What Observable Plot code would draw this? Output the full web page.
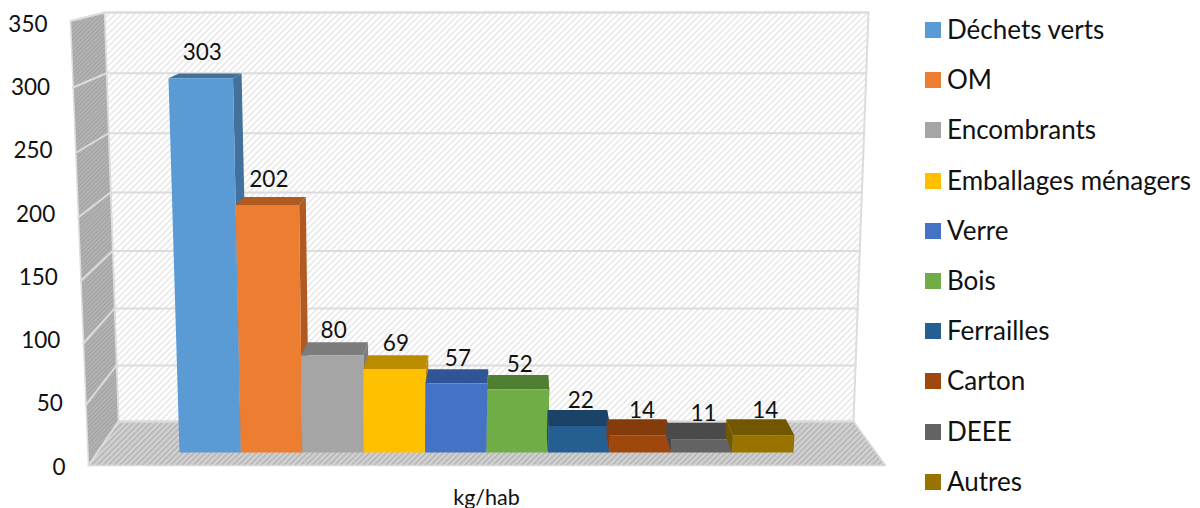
<!DOCTYPE html>
<html>
<head>
<meta charset="utf-8">
<script src="https://cdn.jsdelivr.net/npm/d3@7"></script>
<script src="https://cdn.jsdelivr.net/npm/@observablehq/plot@0.6"></script>
<style>
html,body{margin:0;padding:0;background:#fff;overflow:hidden}
#wrap{position:relative;width:1200px;height:508px;font-family:Lato,sans-serif}
#wrap svg{display:block;position:absolute;left:0;top:0}
#legend{position:absolute;left:925px;top:4px;width:275px}
.row{position:absolute;left:0;display:flex;align-items:center;height:50px;font-size:26px;color:#111;white-space:nowrap}
.sw{width:16px;height:16px;margin-right:6px;flex:none;position:relative;top:1px}
</style>
</head>
<body>
<div id="wrap"><div id="legend"></div></div>
<script>
const categories = ["Déchets verts","OM","Encombrants","Emballages ménagers","Verre","Bois","Ferrailles","Carton","DEEE","Autres"];
const values = [303,202,80,69,57,52,22,14,11,14];
const colors = ["#5b9bd5","#ed7d31","#a5a5a5","#ffc000","#4472c4","#70ad47","#255e91","#9e480e","#636363","#997300"];
const topColors = ["#41719c","#ae5a21","#7c7c7c","#bc8c00","#2f5597","#507e32","#1a4367","#843c0c","#4a4a4a","#725600"];
const tickValues = [0,50,100,150,200,250,300,350];
const axisTitle = "kg/hab";

// Oblique 3D view: depth positions are resolved into the plane of the chart's x and y scales
const W = 1200, H = 508, X0 = 179, BW = 61.4, Y0 = 465, PX = 1.265;
const toU = px => (px - X0) / BW;
const toV = py => (Y0 - py) / PX;
const pt = (px, py) => ({x: toU(px), y: toV(py)});

const frontLeft = v => pt(88 - 18 * v / 350, 465 - 1.2 * v - 0.0002 * v * v);
const backY = v => 421 - 1.1137 * v - 0.000157 * v * v;
const backLeft = v => pt(118 - 14 * v / 350, backY(v));
const backRight = v => pt(853 + 15 * v / 350, backY(v));

const barFront = (u, v) => pt(X0 + BW * u + (u - 3.5) * 0.0104 * v, 452 - 1.205 * v - 0.0001 * v * v);
const barBack = (u, v) => pt(X0 + BW * u + (u - 3.5) * 0.0104 * v + (5.5 - u) * 1.9, 435 - 1.155 * v - 0.00013 * v * v);

const maxTick = tickValues[tickValues.length - 1];
const wallBack = [backLeft(0), backRight(0), backRight(maxTick), backLeft(maxTick), backLeft(0)];
const wallLeft = [frontLeft(0), backLeft(0), backLeft(maxTick), frontLeft(maxTick), frontLeft(0)];
const floorPts = [frontLeft(0), pt(885, 465), backRight(0), backLeft(0), frontLeft(0)];
const grid = tickValues.flatMap(v => [frontLeft(v), backLeft(v), backRight(v)].map(p => ({...p, v})));

const poly = (pts, o) => Plot.line(pts, {x: "x", y: "y", ...o});

function defs() {
  const d = d3.create("svg:defs");
  const pat = (id, bg, fg, size, sw) => {
    const p = d.append("svg:pattern").attr("id", id).attr("width", size).attr("height", size)
      .attr("patternUnits", "userSpaceOnUse").attr("patternTransform", "rotate(45)");
    p.append("svg:rect").attr("width", size).attr("height", size).attr("fill", bg);
    p.append("svg:rect").attr("width", sw).attr("height", size).attr("fill", fg);
  };
  pat("hWall", "#ffffff", "#e6e6e6", 4.5, 1.5);
  pat("hLeft", "#b4b4b4", "#a2a2a2", 3, 1.2);
  pat("hFloor", "#d2d2d2", "#b4b4b4", 4, 1.6);
  return d.node();
}

const barMarks = values.flatMap((v, i) => {
  const sideU = i < 6 ? i + 1 : i;
  const side = [barFront(sideU, 0), barBack(sideU, 0), barBack(sideU, v), barFront(sideU, v)];
  const lid = [barFront(i, v), barFront(i + 1, v), barBack(i + 1, v), barBack(i, v)];
  const face = [barFront(i, 0), barFront(i + 1, 0), barFront(i + 1, v), barFront(i, v)].map(p => ({...p, cat: categories[i]}));
  return [
    poly(side, {fill: topColors[i], stroke: "none"}),
    poly(lid, {fill: topColors[i], stroke: "none"}),
    poly(face, {fill: "cat", stroke: "none"})
  ];
});

const labels = values.map((v, i) => ({
  ...barFront(i + 0.5, v),
  text: String(v)
}));

const chart = Plot.plot({
  width: W, height: H,
  marginTop: 0, marginRight: 0, marginBottom: 0, marginLeft: 0,
  style: {background: "#fff", overflow: "visible"},
  x: {domain: [toU(0), toU(W)], range: [0, W], axis: null},
  y: {domain: [toV(H), toV(0)], range: [H, 0], axis: null},
  color: {domain: categories, range: colors},
  marks: [
    defs,
    poly(wallBack, {fill: "url(#hWall)", stroke: "#dcdcdc", strokeWidth: 2}),
    poly(wallLeft, {fill: "url(#hLeft)", stroke: "#dcdcdc", strokeWidth: 1.5}),
    poly(floorPts, {fill: "url(#hFloor)", stroke: "#d9d9d9", strokeWidth: 1.5}),
    Plot.line(grid, {x: "x", y: "y", z: "v", stroke: "#dcdcdc", strokeWidth: 2}),
    ...barMarks,
    Plot.axisY(tickValues, {
      x: v => toU(65 - 18 * v / 350),
      tickSize: 0, tickPadding: 0, textAnchor: "end", dy: 2,
      label: null, fontSize: 22.5, fontFamily: "Lato, sans-serif", fill: "#111", textStroke: "none"
    }),
    Plot.text(labels, {x: "x", y: "y", text: "text", dx: 1.5, dy: -25, fontSize: 22.5, fontFamily: "Lato, sans-serif", fill: "#111"}),
    Plot.text([axisTitle], {x: () => 5, y: () => toV(497.5), text: d => d, fontSize: 21.5, fontFamily: "Lato, sans-serif", fill: "#111"})
  ]
});
document.getElementById("wrap").prepend(chart);

const legend = document.getElementById("legend");
categories.forEach((c, i) => {
  const row = document.createElement("div");
  row.className = "row";
  row.style.top = (i * 50.2) + "px";
  const sw = document.createElement("span");
  sw.className = "sw";
  sw.style.background = colors[i];
  const t = document.createElement("span");
  t.textContent = c;
  row.append(sw, t);
  legend.append(row);
});
</script>
</body>
</html>
